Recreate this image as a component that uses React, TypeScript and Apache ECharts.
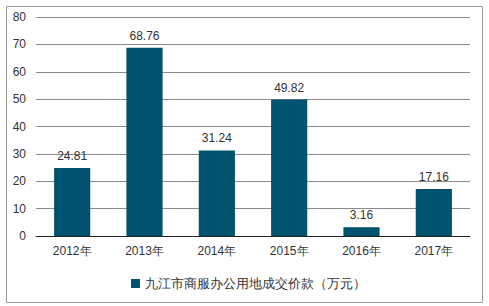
import React, { useEffect, useRef } from "react";
import * as echarts from "echarts";

const categories = ["2012年", "2013年", "2014年", "2015年", "2016年", "2017年"];
const values = [24.81, 68.76, 31.24, 49.82, 3.16, 17.16];
const seriesName = "九江市商服办公用地成交价款（万元）";
const yTicks = { min: 0, max: 80, interval: 10 };

export default function App() {
  const ref = useRef<HTMLDivElement>(null);
  useEffect(() => {
    if (!ref.current) return;
    const chart = echarts.init(ref.current, undefined, { renderer: "svg" });
    const font = "'Liberation Sans', Arial, sans-serif";
    chart.setOption({
      animation: false,
      backgroundColor: "#ffffff",
      textStyle: { fontFamily: font },
      grid: { left: 36, right: 19, top: 17, bottom: 70, containLabel: false },
      legend: {
        data: [seriesName],
        left: 126,
        top: 272,
        itemWidth: 9,
        itemHeight: 9,
        itemGap: 5,
        icon: "rect",
        textStyle: { fontSize: 13, color: "#333", fontFamily: font },
      },
      xAxis: {
        type: "category",
        data: categories,
        axisLine: { lineStyle: { color: "#222", width: 1 } },
        axisTick: { show: false },
        axisLabel: { color: "#333", fontSize: 12, margin: 9, fontFamily: font },
      },
      yAxis: {
        type: "value",
        min: yTicks.min,
        max: yTicks.max,
        interval: yTicks.interval,
        axisLine: { show: false },
        axisTick: { show: false },
        axisLabel: { color: "#333", fontSize: 12, margin: 10, fontFamily: font },
        splitLine: { lineStyle: { color: "#8a8a8a", width: 1 } },
      },
      series: [
        {
          name: seriesName,
          type: "bar",
          data: values,
          barWidth: "50%",
          itemStyle: { color: "#00536e" },
          label: {
            show: true,
            position: "top",
            distance: 6,
            color: "#333",
            fontSize: 12,
            fontFamily: font,
          },
        },
      ],
      graphic: [
        {
          type: "rect",
          shape: { x: 6.5, y: 6.5, width: 476, height: 296 },
          style: { fill: "none", stroke: "#999", lineWidth: 1 },
          silent: true,
          z: 100,
        },
      ],
    });
    return () => chart.dispose();
  }, []);
  return (
    <div
      ref={ref}
      style={{ position: "fixed", left: 0, top: 0, width: 489, height: 306 }}
    />
  );
}
